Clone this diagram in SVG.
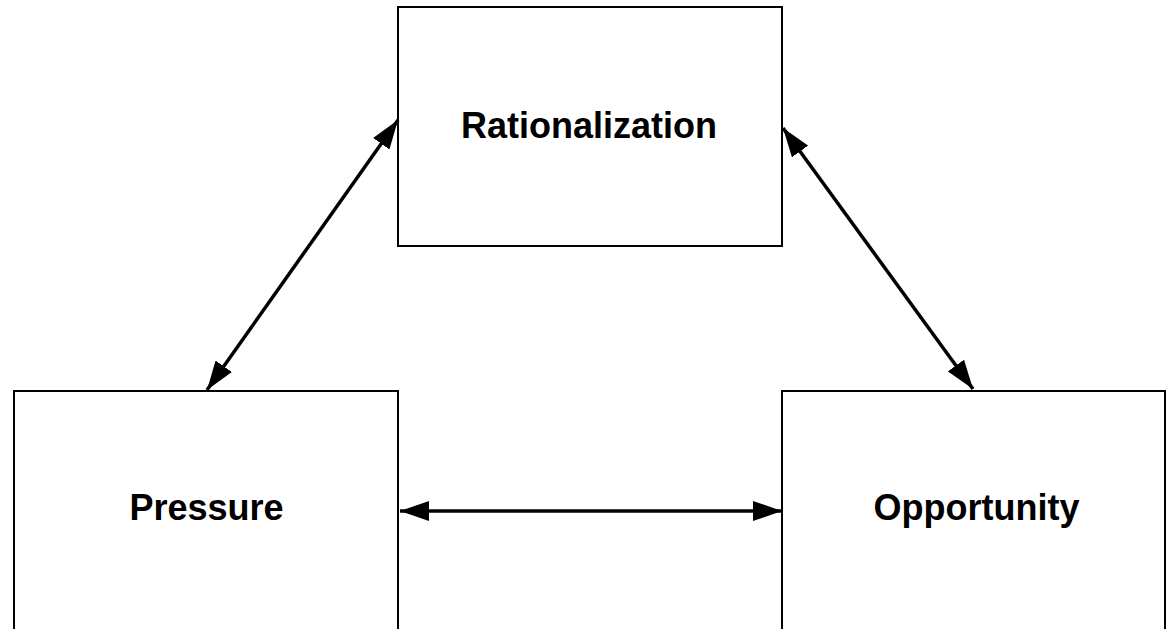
<svg xmlns="http://www.w3.org/2000/svg" width="1168" height="629" viewBox="0 0 1168 629">
<style>
.box{fill:#fff;stroke:#000;stroke-width:2}
.lbl{font-family:"Liberation Sans",Arial,sans-serif;font-weight:bold;font-size:36px;fill:#000;text-anchor:middle}
.con{stroke:#000;stroke-width:3.5;fill:none;marker-start:url(#ah);marker-end:url(#ah)}
</style>
<defs>
<marker id="ah" markerUnits="userSpaceOnUse" viewBox="0 0 29 20" refX="29" refY="10" markerWidth="29" markerHeight="20" orient="auto-start-reverse">
<path d="M0,0 L29,10 L0,20 z" fill="#000"/>
</marker>
</defs>
<rect width="1168" height="629" fill="#fff"/>
<g id="rationalization">
<rect class="box" x="398" y="7" width="384" height="239"/>
<text class="lbl" x="589" y="138">Rationalization</text>
</g>
<g id="pressure">
<rect class="box" x="14" y="391" width="384" height="260"/>
<text class="lbl" x="206.5" y="520">Pressure</text>
</g>
<g id="opportunity">
<rect class="box" x="782" y="391" width="383" height="260"/>
<text class="lbl" x="976.5" y="520">Opportunity</text>
</g>
<g id="connectors">
<line class="con" x1="207" y1="390" x2="398" y2="120"/>
<line class="con" x1="783" y1="128" x2="973" y2="389"/>
<line class="con" x1="400" y1="511" x2="782" y2="511"/>
</g>
</svg>
